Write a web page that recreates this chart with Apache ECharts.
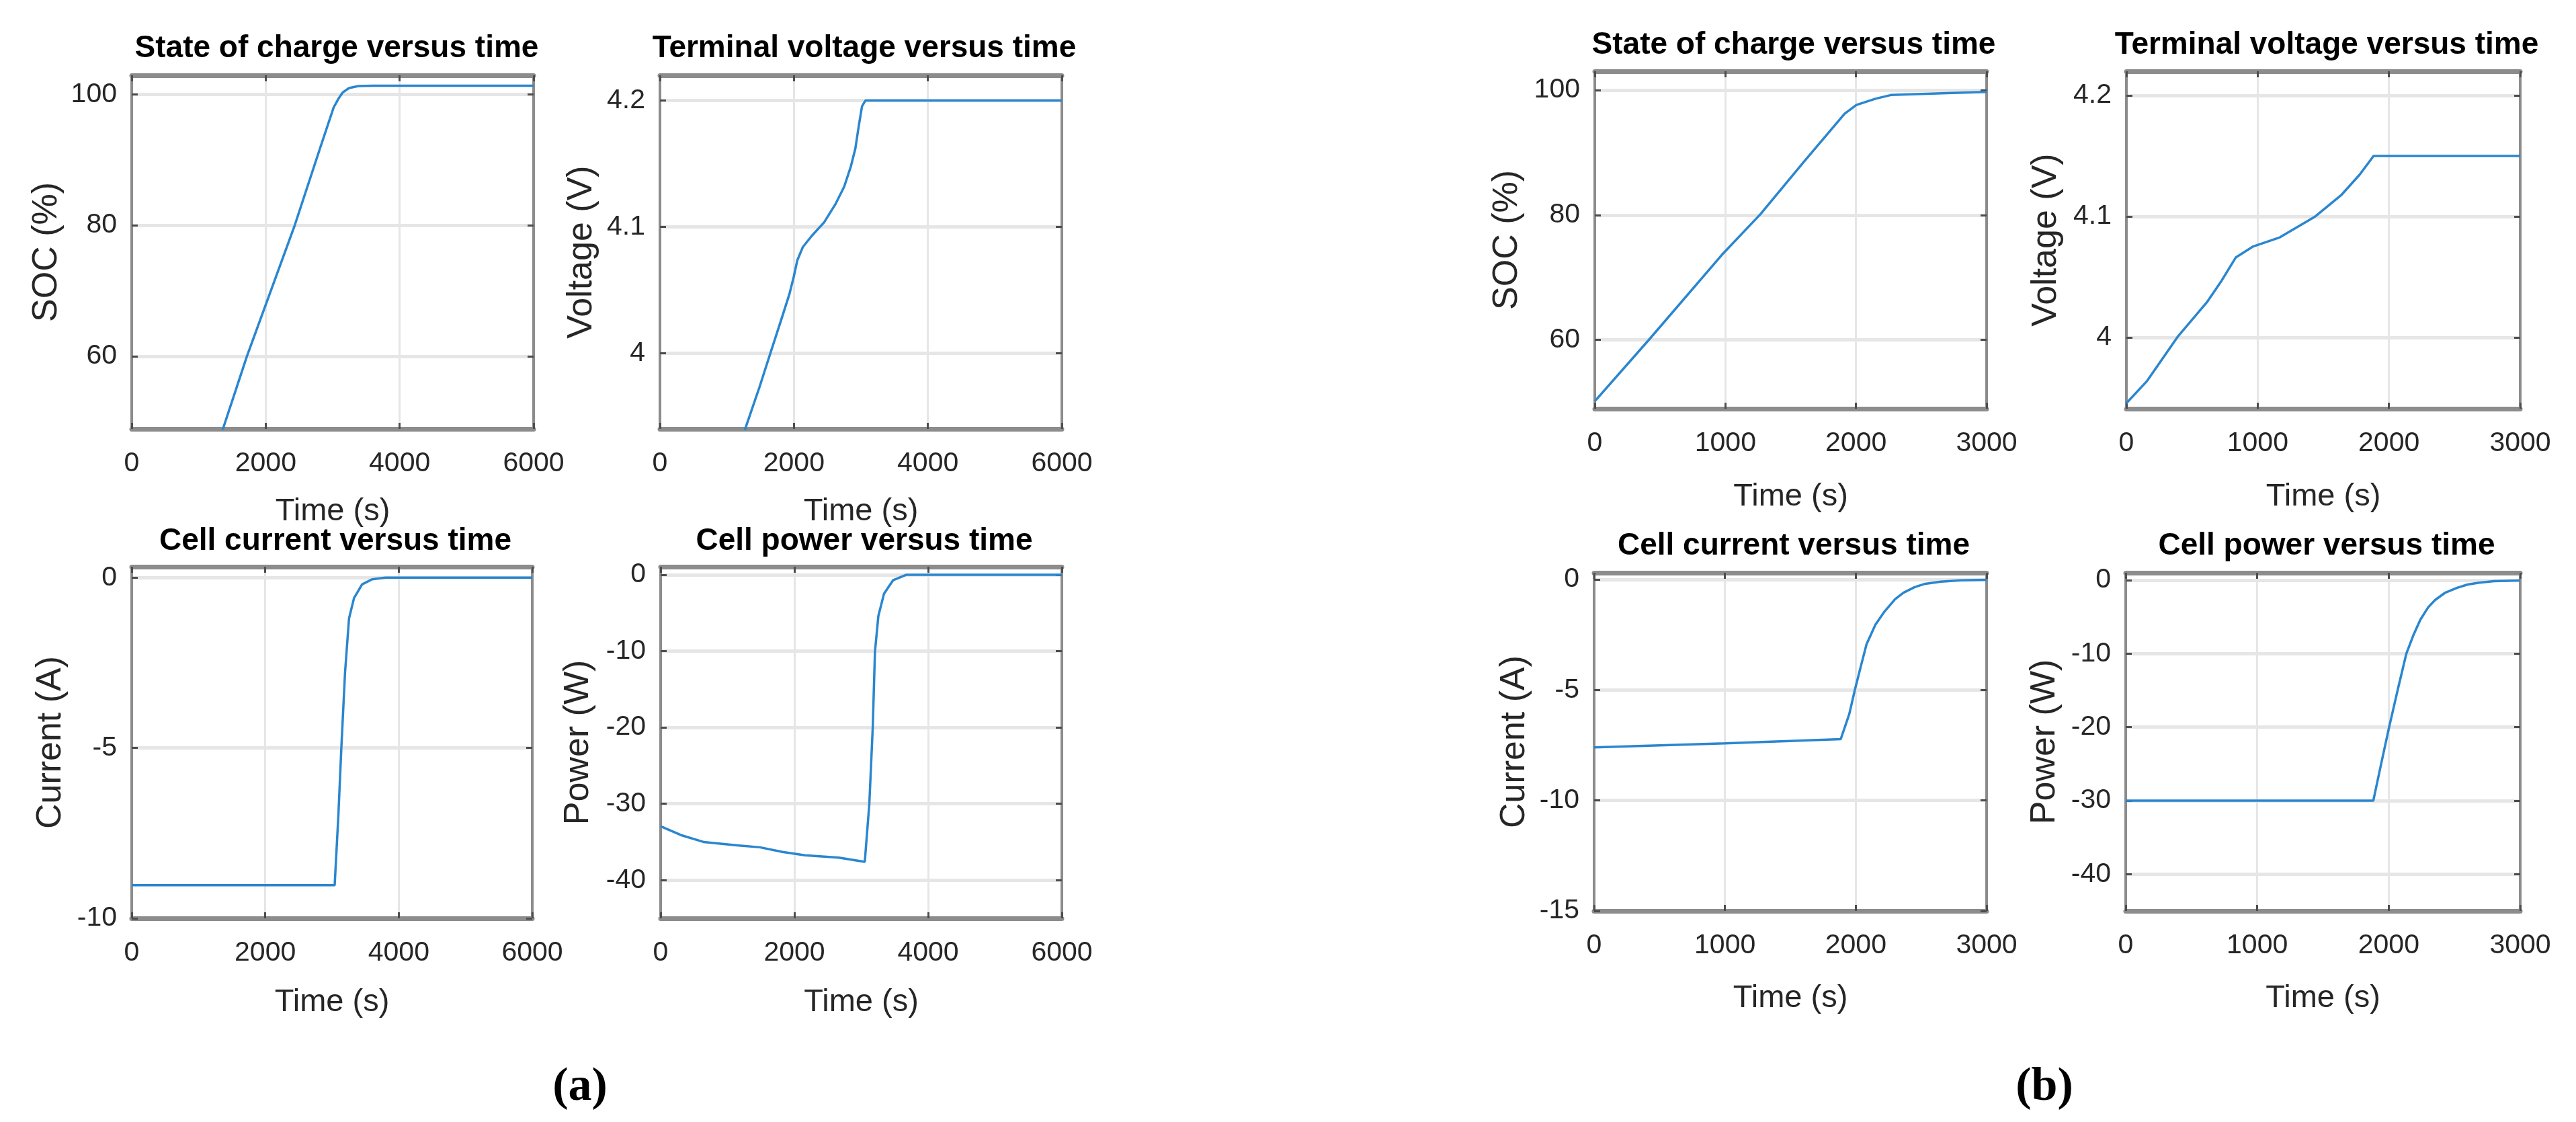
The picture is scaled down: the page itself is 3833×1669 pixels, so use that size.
<!DOCTYPE html>
<html>
<head>
<meta charset="utf-8">
<script src="https://cdn.jsdelivr.net/npm/echarts@6/dist/echarts.min.js"></script>
<style>
html,body{margin:0;padding:0;background:#ffffff;}
#chart{width:3833px;height:1669px;}
</style>
</head>
<body>
<div id="chart"></div>
<script>
// ---------------- DATA ----------------
// Panel (a): 0–6000 s
const aSocTime   = [0, 1362, 1720, 2434, 2800, 3015, 3085, 3152, 3244, 3383, 3600, 6000];
const aSocValue  = [10, 48.9, 60, 80, 91.4, 98.0, 99.3, 100.3, 100.95, 101.26, 101.3, 101.3];

const aVoltTime  = [0, 1282, 1482, 1649, 1800, 1933, 2000, 2050, 2133, 2267, 2450, 2617, 2750, 2850, 2917, 2967, 3017, 3067, 6000];
const aVoltValue = [3.73, 3.9415, 3.9725, 4.0, 4.0247, 4.0468, 4.061, 4.0734, 4.084, 4.0929, 4.1035, 4.1177, 4.1318, 4.1478, 4.162, 4.1796, 4.1955, 4.2, 4.2];

const aCurrTime  = [0, 3040, 3095, 3140, 3195, 3255, 3330, 3450, 3600, 3800, 6000];
const aCurrValue = [-9.03, -9.03, -7.0, -5.0, -2.8, -1.2, -0.6, -0.2, -0.05, 0, 0];

const aPowTime   = [0, 304, 641, 1147, 1484, 1821, 2159, 2665, 3053, 3121, 3172, 3205, 3256, 3340, 3475, 3677, 6000];
const aPowValue  = [-32.95, -34.1, -35.0, -35.45, -35.7, -36.3, -36.75, -37.05, -37.6, -30.0, -20.0, -10.1, -5.4, -2.5, -0.73, 0, 0];

// Panel (b): 0–3000 s
const bSocTime   = [0, 413, 972, 1267, 1600, 1913, 2003, 2149, 2267, 2700, 3000];
const bSocValue  = [50.2, 60, 73.6, 80.1, 88.5, 96.2, 97.6, 98.6, 99.2, 99.5, 99.7];

const bVoltTime  = [0, 158, 394, 613, 720, 833, 966, 1169, 1439, 1640, 1776, 1883, 3000];
const bVoltValue = [3.9456, 3.964, 4.001, 4.029, 4.046, 4.066, 4.0752, 4.0827, 4.1, 4.118, 4.1344, 4.15, 4.15];

const bCurrTime  = [0, 1000, 1885, 1950, 1993, 2040, 2082, 2150, 2220, 2300, 2365, 2450, 2530, 2650, 2800, 3000];
const bCurrValue = [-7.6, -7.42, -7.23, -6.1, -5.0, -3.9, -2.94, -2.05, -1.45, -0.9, -0.6, -0.35, -0.2, -0.1, -0.04, -0.02];

const bPowTime   = [0, 1883, 1940, 2003, 2070, 2134, 2185, 2240, 2300, 2353, 2430, 2520, 2600, 2688, 2800, 3000];
const bPowValue  = [-30, -30, -25.2, -20, -14.8, -10, -7.6, -5.4, -3.7, -2.7, -1.7, -1.05, -0.6, -0.34, -0.15, -0.05];

// Tick labels
const timeTicksA   = [0, 2000, 4000, 6000];
const timeTicksB   = [0, 1000, 2000, 3000];
const socTicks     = [60, 80, 100];
const voltTicks    = [4, 4.1, 4.2];
const currTicksA   = [-10, -5, 0];
const currTicksB   = [-15, -10, -5, 0];
const powTicks     = [-40, -30, -20, -10, 0];

// Texts
const titles = ['State of charge versus time', 'Terminal voltage versus time', 'Cell current versus time', 'Cell power versus time'];
const yNames = ['SOC (%)', 'Voltage (V)', 'Current (A)', 'Power (W)'];
const xName = 'Time (s)';
const captions = ['a', 'b'];

// ---------------- LAYOUT / STYLE ----------------
const SANS = '"Liberation Sans",Arial,sans-serif';
const SERIF = '"Liberation Serif","Times New Roman",serif';
const AXC = '#8c8c8c', GRIDC = '#e6e6e6', TICKC = '#4d4d4d', TXT = '#262626', LINEC = '#2a86cf';
const plain = v => String(v);

const panels = [
  {grid:{left:196, top:112, width:598, height:526}, time:aSocTime, value:aSocValue, xmax:6000, xint:2000, xticks:timeTicksA, ymin:48.9, ymax:102.9, yticks:socTicks, title:titles[0], yName:yNames[0], yGap:100, xGap:100, titleX:496, titleTop:44},
  {grid:{left:982, top:112, width:598, height:526}, time:aVoltTime, value:aVoltValue, xmax:6000, xint:2000, xticks:timeTicksA, ymin:3.94, ymax:4.22, yticks:voltTicks, title:titles[1], yName:yNames[1], yGap:90, xGap:100, titleX:1281, titleTop:44},
  {grid:{left:196, top:843, width:596, height:523}, time:aCurrTime, value:aCurrValue, xmax:6000, xint:2000, xticks:timeTicksA, ymin:-10, ymax:0.32, yticks:currTicksA, title:titles[2], yName:yNames[2], yGap:94, xGap:102, titleX:494, titleTop:777},
  {grid:{left:983, top:843, width:597, height:523}, time:aPowTime, value:aPowValue, xmax:6000, xint:2000, xticks:timeTicksA, ymin:-45, ymax:1.05, yticks:powTicks, title:titles[3], yName:yNames[3], yGap:96, xGap:102, titleX:1281, titleTop:777},
  {grid:{left:2373, top:106, width:583, height:502}, time:bSocTime, value:bSocValue, xmax:3000, xint:1000, xticks:timeTicksB, ymin:49, ymax:103, yticks:socTicks, title:titles[0], yName:yNames[0], yGap:104, xGap:108, titleX:2664, titleTop:39},
  {grid:{left:3164, top:106, width:586, height:502}, time:bVoltTime, value:bVoltValue, xmax:3000, xint:1000, xticks:timeTicksB, ymin:3.941, ymax:4.22, yticks:voltTicks, title:titles[1], yName:yNames[1], yGap:93, xGap:108, titleX:3457, titleTop:39},
  {grid:{left:2372, top:852, width:584, height:503}, time:bCurrTime, value:bCurrValue, xmax:3000, xint:1000, xticks:timeTicksB, ymin:-15, ymax:0.3, yticks:currTicksB, title:titles[2], yName:yNames[2], yGap:92, xGap:107, titleX:2664, titleTop:784},
  {grid:{left:3163, top:852, width:587, height:503}, time:bPowTime, value:bPowValue, xmax:3000, xint:1000, xticks:timeTicksB, ymin:-45, ymax:1.0, yticks:powTicks, title:titles[3], yName:yNames[3], yGap:94, xGap:107, titleX:3457, titleTop:784}
];

const grid = [], xAxis = [], yAxis = [], series = [], title = [];
panels.forEach((p, i) => {
  grid.push(Object.assign({containLabel:false}, p.grid));
  const tickStyle = {show:true, inside:true, length:9, lineStyle:{color:TICKC, width:3}};
  xAxis.push({
    type:'value', gridIndex:i, min:0, max:p.xmax, interval:p.xint, position:'bottom',
    name:xName, nameLocation:'middle', nameGap:p.xGap,
    nameTextStyle:{fontFamily:SANS, fontSize:47, color:TXT},
    axisLine:{show:true, onZero:false, lineStyle:{color:AXC, width:7}},
    axisTick:Object.assign({customValues:p.xticks}, tickStyle),
    axisLabel:{show:true, customValues:p.xticks, formatter:plain, margin:31, fontFamily:SANS, fontSize:41, color:TXT},
    splitLine:{show:true, lineStyle:{color:GRIDC, width:3}}
  });
  xAxis.push({
    type:'value', gridIndex:i, min:0, max:p.xmax, interval:p.xint, position:'top',
    axisLine:{show:true, onZero:false, lineStyle:{color:AXC, width:7}},
    axisTick:Object.assign({customValues:p.xticks}, tickStyle),
    axisLabel:{show:false}, splitLine:{show:false}
  });
  yAxis.push({
    type:'value', gridIndex:i, min:p.ymin, max:p.ymax, position:'left',
    name:p.yName, nameLocation:'middle', nameGap:p.yGap,
    nameTextStyle:{fontFamily:SANS, fontSize:52, color:TXT},
    axisLine:{show:true, onZero:false, lineStyle:{color:AXC, width:4}},
    axisTick:Object.assign({customValues:p.yticks}, tickStyle),
    axisLabel:{show:true, customValues:p.yticks, formatter:plain, margin:22, fontFamily:SANS, fontSize:41, color:TXT},
    splitLine:{show:true, lineStyle:{color:GRIDC, width:5}}
  });
  yAxis.push({
    type:'value', gridIndex:i, min:p.ymin, max:p.ymax, position:'right',
    axisLine:{show:true, onZero:false, lineStyle:{color:AXC, width:4}},
    axisTick:Object.assign({customValues:p.yticks}, tickStyle),
    axisLabel:{show:false}, splitLine:{show:false}
  });
  series.push({
    type:'line', xAxisIndex:2*i, yAxisIndex:2*i,
    data:p.time.map((t, k) => [t, p.value[k]]),
    showSymbol:false, symbol:'none', clip:true, silent:true,
    lineStyle:{color:LINEC, width:3.5}, z:3
  });
  title.push({
    text:p.title, left:p.titleX, top:p.titleTop, textAlign:'center',
    textStyle:{fontFamily:SANS, fontWeight:'bold', fontSize:46, color:'#000000'}
  });
});

['a', 'b'].forEach((c, k) => {
  title.push({
    text:'(' + '{b|' + captions[k] + '})', left:[858, 3037][k], top:1578, textAlign:'center',
    textStyle:{fontFamily:SERIF, fontSize:70, color:'#000000', rich:{b:{fontFamily:SERIF, fontSize:70, fontWeight:'bold', color:'#000000'}}}
  });
});

const chart = echarts.init(document.getElementById('chart'), null, {renderer:'canvas'});
chart.setOption({
  backgroundColor:'#ffffff',
  animation:false,
  title, grid, xAxis, yAxis, series
});
</script>
</body>
</html>
